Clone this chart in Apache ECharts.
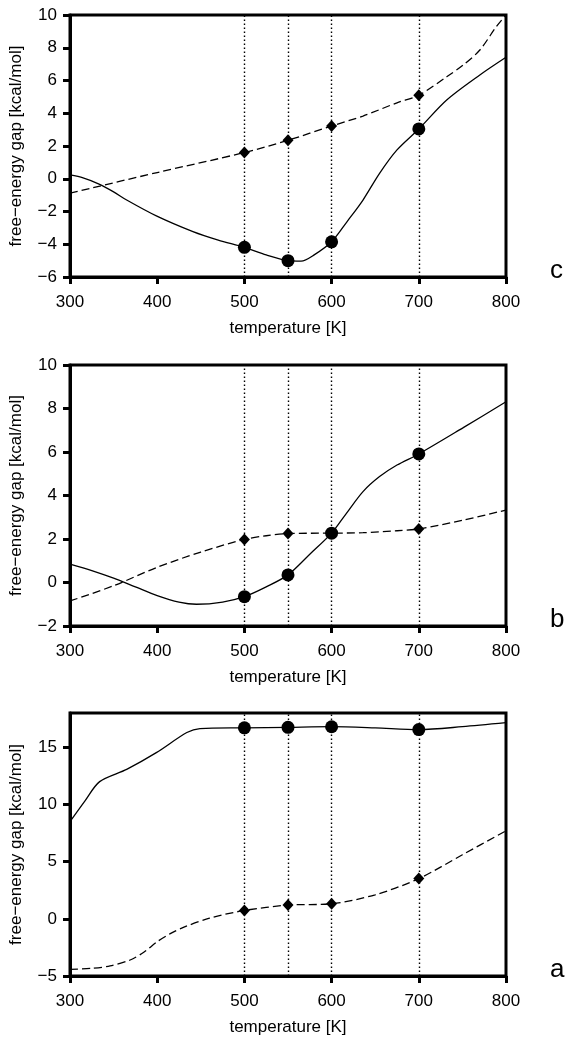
<!DOCTYPE html>
<html>
<head>
<meta charset="utf-8">
<script src="https://cdn.jsdelivr.net/npm/echarts@6/dist/echarts.min.js"></script>
<style>html,body{margin:0;padding:0;background:#fff}#chart{width:576px;height:1045px}</style>
</head>
<body>
<div id="chart"></div>
<script>
// ---- data ----
const xTicks = [300, 400, 500, 600, 700, 800];
const markerT = [500, 550, 600, 700];

// panel c
const cSolidT = [300, 315, 334, 350, 365, 399, 441, 470, 500, 525, 550, 565, 580, 600, 618, 636, 655, 675, 700, 732, 770, 800];
const cSolidV = [0.23, 0.05, -0.34, -0.8, -1.3, -2.27, -3.23, -3.75, -4.19, -4.65, -5.0, -5.03, -4.65, -3.85, -2.6, -1.3, 0.33, 1.76, 3.04, 4.81, 6.34, 7.42];
const cDashT = [300, 400, 500, 550, 600, 636, 675, 700, 732, 751, 770, 789, 800];
const cDashV = [-0.88, 0.38, 1.6, 2.35, 3.22, 3.83, 4.64, 5.1, 6.23, 6.95, 7.86, 9.3, 10.0];
const cSolidMarks = [-4.19, -5.0, -3.85, 3.04];
const cDashMarks = [1.6, 2.35, 3.22, 5.1];

// panel b
const bSolidT = [300, 325, 350, 375, 400, 425, 445, 475, 500, 525, 550, 575, 600, 617, 636, 655, 675, 700, 751, 800];
const bSolidV = [0.85, 0.55, 0.2, -0.2, -0.6, -0.9, -1.0, -0.9, -0.65, -0.2, 0.35, 1.3, 2.27, 3.18, 4.18, 4.87, 5.4, 5.91, 7.12, 8.31];
const bDashT = [300, 350, 400, 450, 500, 525, 550, 600, 636, 675, 700, 751, 800];
const bDashV = [-0.85, -0.15, 0.7, 1.4, 1.98, 2.15, 2.25, 2.27, 2.29, 2.38, 2.46, 2.87, 3.33];
const bSolidMarks = [-0.65, 0.35, 2.27, 5.91];
const bDashMarks = [1.98, 2.25, 2.27, 2.46];

// panel a
const aSolidT = [300, 317, 334, 365, 399, 434, 449, 500, 550, 600, 650, 700, 750, 800];
const aSolidV = [8.5, 10.3, 12.0, 13.07, 14.53, 16.29, 16.64, 16.7, 16.75, 16.8, 16.7, 16.55, 16.8, 17.15];
const aDashT = [300, 325, 346, 369, 385, 400, 415, 430, 460, 500, 550, 600, 650, 700, 750, 800];
const aDashV = [-4.42, -4.33, -4.12, -3.6, -2.9, -2.0, -1.3, -0.75, 0.06, 0.73, 1.2, 1.32, 2.1, 3.52, 5.6, 7.7];
const aSolidMarks = [16.7, 16.75, 16.8, 16.55];
const aDashMarks = [0.73, 1.2, 1.32, 3.52];

const yTicksC = [-6, -4, -2, 0, 2, 4, 6, 8, 10];
const yTicksB = [-2, 0, 2, 4, 6, 8, 10];
const yTicksA = [-5, 0, 5, 10, 15];

const panelLetters = ['c', 'b', 'a'];
const xName = 'temperature [K]';
const yName = 'free\u2212energy gap [kcal/mol]';

// ---- build ----
const FONT = 'Liberation Sans, Arial, Helvetica, sans-serif';
const FS = 17;
const zip = (t, v) => t.map((x, i) => [x, v[i]]);
const minus = v => String(v).replace('-', '\u2212');

const panels = [
  {top: 15, height: 262, min: -6, max: 10, interval: 2, ticks: yTicksC, s: zip(cSolidT, cSolidV), d: zip(cDashT, cDashV), sm: zip(markerT, cSolidMarks), dm: zip(markerT, cDashMarks)},
  {top: 365, height: 261, min: -2, max: 10, interval: 2, ticks: yTicksB, s: zip(bSolidT, bSolidV), d: zip(bDashT, bDashV), sm: zip(markerT, bSolidMarks), dm: zip(markerT, bDashMarks)},
  {top: 713, height: 263, min: -5, max: 18, interval: 5, ticks: yTicksA, s: zip(aSolidT, aSolidV), d: zip(aDashT, aDashV), sm: zip(markerT, aSolidMarks), dm: zip(markerT, aDashMarks)}
];

const grid = [], xAxis = [], yAxis = [], series = [], graphic = [];
panels.forEach((p, i) => {
  grid.push({left: 70, width: 436, top: p.top, height: p.height, show: true, borderColor: '#000', borderWidth: 3, backgroundColor: 'transparent', containLabel: false});
  xAxis.push({
    type: 'value', gridIndex: i, min: 300, max: 800, interval: 100,
    name: xName, nameLocation: 'middle', nameGap: 43,
    nameTextStyle: {fontFamily: FONT, fontSize: FS, color: '#000'},
    axisLine: {show: true, onZero: false, lineStyle: {color: '#000', width: 3}},
    axisTick: {show: true, inside: false, length: 7, lineStyle: {color: '#000', width: 3}, customValues: xTicks},
    axisLabel: {fontFamily: FONT, fontSize: FS, color: '#000', margin: 17, customValues: xTicks},
    splitLine: {show: false}
  });
  yAxis.push({
    type: 'value', gridIndex: i, min: p.min, max: p.max, interval: p.interval,
    name: yName, nameLocation: 'middle', nameGap: 45,
    nameTextStyle: {fontFamily: FONT, fontSize: FS, color: '#000'},
    axisLine: {show: true, onZero: false, lineStyle: {color: '#000', width: 3}},
    axisTick: {show: true, inside: false, length: 7, lineStyle: {color: '#000', width: 3}, customValues: p.ticks},
    axisLabel: {fontFamily: FONT, fontSize: FS, color: '#000', margin: 13, customValues: p.ticks, formatter: minus},
    splitLine: {show: false}
  });
  series.push({
    type: 'line', xAxisIndex: i, yAxisIndex: i, data: p.s, smooth: 0.3, showSymbol: false,
    lineStyle: {color: '#000', width: 1.3}, z: 3, silent: true
  });
  series.push({
    type: 'line', xAxisIndex: i, yAxisIndex: i, data: p.d, smooth: 0.3, showSymbol: false,
    lineStyle: {color: '#000', width: 1.3, type: [8, 4]}, z: 3, silent: true
  });
  series.push({
    type: 'scatter', xAxisIndex: i, yAxisIndex: i, data: p.sm, symbol: 'circle', symbolSize: 13,
    itemStyle: {color: '#000', opacity: 1}, z: 5, silent: true,
    markLine: {
      silent: true, symbol: ['none', 'none'], label: {show: false},
      lineStyle: {color: '#000', width: 1.4, type: [1.5, 2.5], opacity: 1},
      data: markerT.map(t => ({xAxis: t})), z: 1, animation: false
    }
  });
  series.push({
    type: 'scatter', xAxisIndex: i, yAxisIndex: i, data: p.dm, symbol: 'diamond', symbolSize: [11, 12],
    itemStyle: {color: '#000', opacity: 1}, z: 5, silent: true
  });
  graphic.push({type: 'text', left: 550, top: p.top + p.height - 19, style: {text: panelLetters[i], font: '26px ' + FONT, fill: '#000'}});
});

const chart = echarts.init(document.getElementById('chart'), null, {renderer: 'canvas'});
chart.setOption({animation: false, backgroundColor: '#fff', grid, xAxis, yAxis, series, graphic});
</script>
</body>
</html>
